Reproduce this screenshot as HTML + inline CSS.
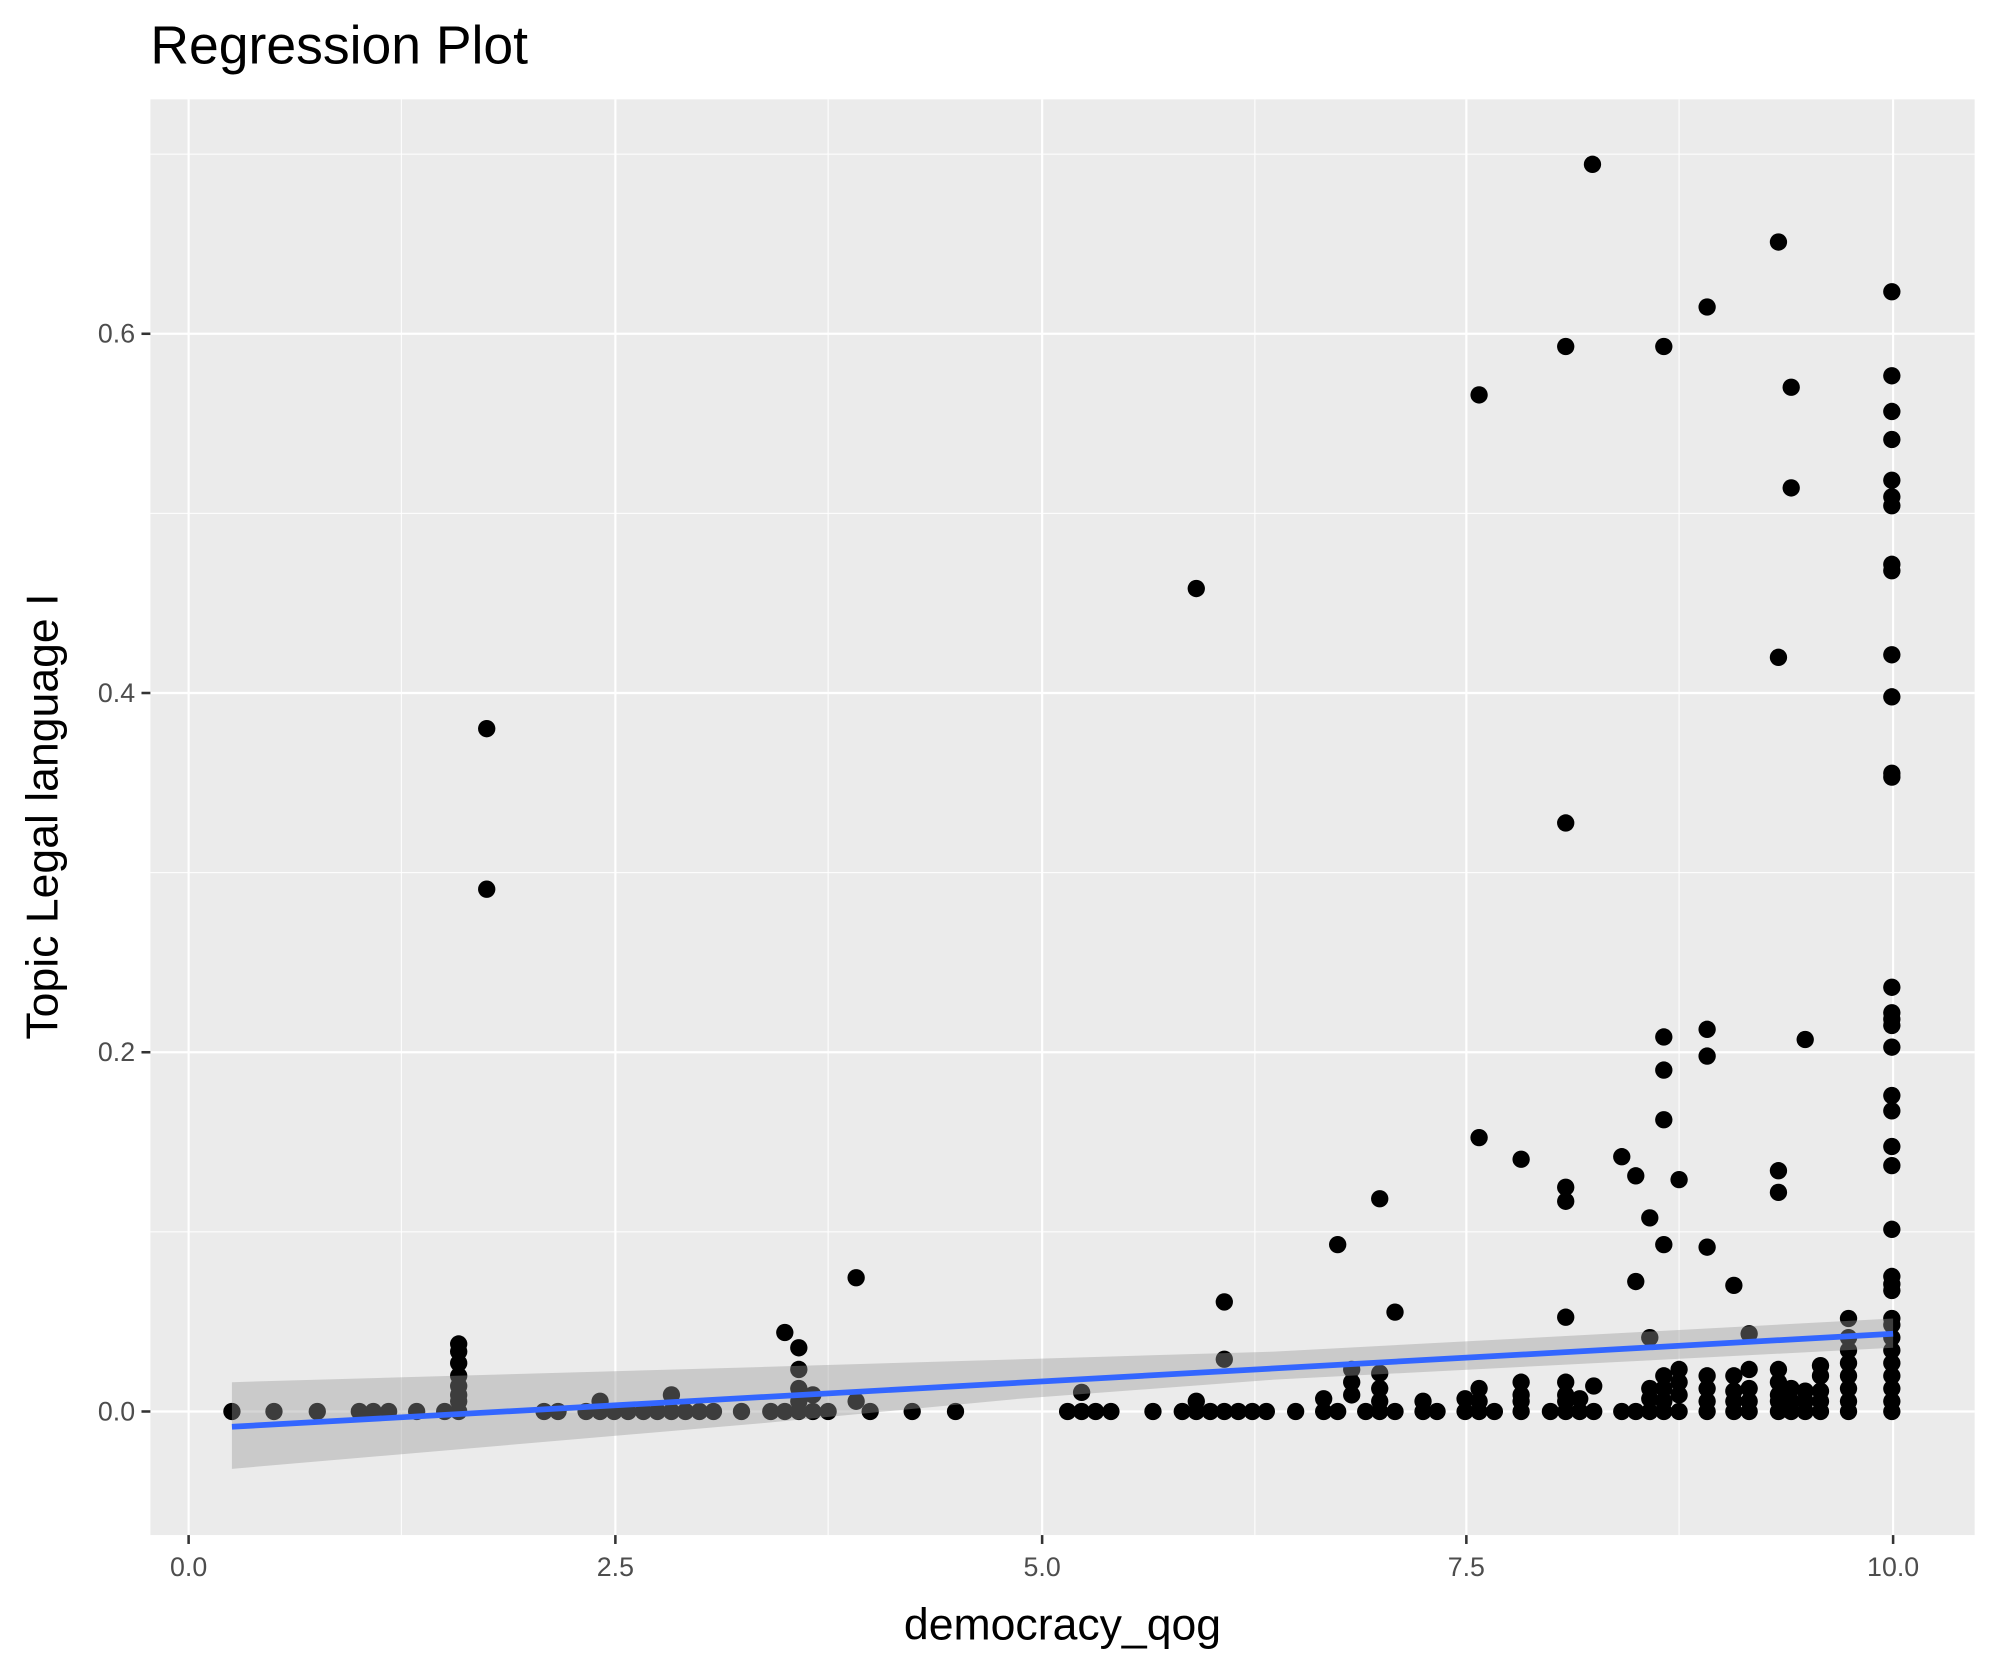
<!DOCTYPE html>
<html><head><meta charset="utf-8"><style>
html,body{margin:0;padding:0;background:#fff;}
svg{display:block;}
text{font-family:"Liberation Sans",Arial,sans-serif;}
</style></head><body>
<svg id="s" width="1990" height="1665" viewBox="0 0 1562 1307" xmlns="http://www.w3.org/2000/svg">
<rect width="1562" height="1307" fill="#fff"/>
<text x="118" y="50" font-size="42" fill="#000">Regression Plot</text>
<rect x="118" y="78" width="1432" height="1127" fill="#EBEBEB"/>
<g stroke="#fff" stroke-width="0.8">
<line x1="315" y1="78" x2="315" y2="1205"/><line x1="650" y1="78" x2="650" y2="1205"/>
<line x1="985" y1="78" x2="985" y2="1205"/><line x1="1318" y1="78" x2="1318" y2="1205"/>
<line x1="118" y1="121" x2="1550" y2="121"/><line x1="118" y1="403" x2="1550" y2="403"/>
<line x1="118" y1="685" x2="1550" y2="685"/><line x1="118" y1="967" x2="1550" y2="967"/>
</g>
<g stroke="#fff" stroke-width="1.7">
<line x1="148" y1="78" x2="148" y2="1205"/><line x1="483" y1="78" x2="483" y2="1205"/>
<line x1="818" y1="78" x2="818" y2="1205"/><line x1="1151" y1="78" x2="1151" y2="1205"/>
<line x1="1486" y1="78" x2="1486" y2="1205"/>
<line x1="118" y1="262" x2="1550" y2="262"/><line x1="118" y1="544" x2="1550" y2="544"/>
<line x1="118" y1="826" x2="1550" y2="826"/><line x1="118" y1="1108" x2="1550" y2="1108"/>
</g>
<g id="pts" fill="#000"></g>
<polygon points="182,1085 600,1073 1000,1061 1486,1035 1486,1058 1000,1083 800,1098 600,1117 182,1153" fill="#999" fill-opacity="0.4"/>
<line x1="182" y1="1120" x2="1486" y2="1047" stroke="#3366FF" stroke-width="4.5"/>
<g stroke="#333" stroke-width="2">
<line x1="111" y1="262" x2="118" y2="262"/><line x1="111" y1="544" x2="118" y2="544"/>
<line x1="111" y1="826" x2="118" y2="826"/><line x1="111" y1="1108" x2="118" y2="1108"/>
<line x1="148" y1="1205" x2="148" y2="1212"/><line x1="483" y1="1205" x2="483" y2="1212"/>
<line x1="818" y1="1205" x2="818" y2="1212"/><line x1="1151" y1="1205" x2="1151" y2="1212"/>
<line x1="1486" y1="1205" x2="1486" y2="1212"/>
</g>
<g font-size="21" fill="#4D4D4D" text-anchor="end">
<text x="106" y="269">0.6</text><text x="106" y="551">0.4</text>
<text x="106" y="833">0.2</text><text x="106" y="1115">0.0</text>
</g>
<g font-size="21" fill="#4D4D4D" text-anchor="middle">
<text x="148" y="1237">0.0</text><text x="483" y="1237">2.5</text>
<text x="818" y="1237">5.0</text><text x="1151" y="1237">7.5</text>
<text x="1486" y="1237">10.0</text>
</g>
<text x="834" y="1287" font-size="35" text-anchor="middle" fill="#000">democracy_qog</text>
<text transform="translate(45,641) rotate(-90)" font-size="35" text-anchor="middle" fill="#000">Topic Legal language I</text>
</svg>
<script>
var P=[[1250,129],[1396,190],[1340,241],[1485,229],[1229,272],[1306,272],[1161,310],[1406,304],[1406,383],[1485,295],[1485,323],[1485,345],[1485,377],[1485,390],[1485,397],[1485,443],[1485,448],[1485,514],[1485,547],[1485,607],[1485,610],[939,462],[1396,516],[382,572],[382,698],[1229,646],
[1485,775],[1485,795],[1485,800],[1485,805],[1485,822],[1485,860],[1485,872],[1485,900],[1485,915],[1485,965],[1485,1002],[1485,1008],[1485,1013],[1485,1035],[1306,814],[1340,808],[1417,816],[1306,840],[1340,829],[1306,879],[1161,893],[1194,910],[1229,932],[1229,943],[1273,908],[1284,923],[1318,926],[1396,919],[1396,936],[1083,941],[1295,956],[1306,977],[1050,977],[1340,979],[672,1003],[1284,1006],[1361,1009],[961,1022],[1095,1030],[1229,1034],[616,1046],[627,1058],[360,1055],[360,1061],[1295,1050],[1373,1047],[1451,1035],[961,1067],[1451,1050],[1451,1060]];
var base=[182,215,249,282,293,305,327,349,360,427,438,460,471,482,493,505,516,527,538,549,560,582,605,616,627,638,650,683,716,750,838,849,860,872,905,928,939,950,961,972,983,994,1017,1039,1050,1072,1083,1095,1117,1128,1150,1161,1173,1194,1217,1229,1240,1251,1273,1284,1295,1306,1318,1340,1361,1373,1396,1406,1417,1429,1451,1485];
base.forEach(function(x){P.push([x,1108]);});
var stacks={360:[1070,1080,1088,1095,1100],627:[1075,1090,1100],638:[1095],672:[1100],471:[1100],527:[1095],849:[1093],939:[1100],1039:[1098],1061:[1075,1085,1095],1083:[1078,1090,1100],1117:[1100],1150:[1098],1161:[1090,1100],1194:[1085,1095,1100],1229:[1085,1095,1100],1240:[1098],1251:[1088],1295:[1090,1098],1306:[1080,1090,1100],1318:[1075,1085,1095],1340:[1080,1090,1100],1361:[1080,1092,1100],1373:[1075,1090,1100],1396:[1075,1085,1095,1100],1406:[1090,1100],1417:[1092,1100],1429:[1072,1080,1092,1100],1451:[1070,1080,1090,1100],1485:[1040,1050,1060,1070,1080,1090,1100]};
for(var k in stacks)stacks[k].forEach(function(y){P.push([+k,y]);});
var g=document.getElementById('pts'),h='';
P.forEach(function(p){h+='<circle cx="'+p[0]+'" cy="'+p[1]+'" r="6.8"/>';});
g.innerHTML=h;
</script>
</body></html>
